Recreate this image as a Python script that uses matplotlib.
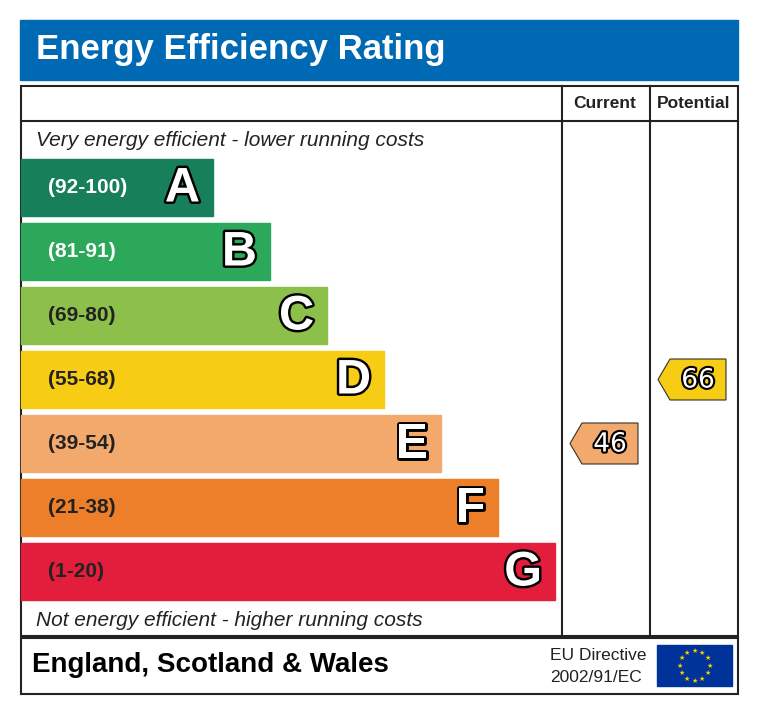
import matplotlib
matplotlib.use("Agg")
import matplotlib.pyplot as plt
import matplotlib.patheffects as pe
from matplotlib.patches import Rectangle, Polygon
import math

letters = ["A", "B", "C", "D", "E", "F", "G"]
ranges = ["(92-100)", "(81-91)", "(69-80)", "(55-68)", "(39-54)", "(21-38)", "(1-20)"]
lows = [92, 81, 69, 55, 39, 21, 1]
colors = ["#17805a", "#2ba85a", "#8cc04a", "#f6cc15", "#f2a96b", "#ee7f2a", "#e31d3c"]
range_text_colors = ["white", "white", "#222222", "#222222", "#222222", "#222222", "#222222"]
current = 46
potential = 66

fig = plt.figure(figsize=(7.6, 7.15), dpi=100)
ax = fig.add_axes([0, 0, 1, 1])
ax.set_xlim(0, 760); ax.set_ylim(715, 0); ax.axis("off")
F = "Liberation Sans"

ax.add_patch(Rectangle((20, 20), 718, 60, color="#0069b4"))
ax.text(36, 50, "Energy Efficiency Rating", color="white", fontsize=25, fontweight="bold", va="center", family=F)

lw = 1.5
ax.add_patch(Rectangle((21, 86), 717, 550, fill=False, ec="#222", lw=lw))
ax.plot([21, 738], [121, 121], color="#222", lw=lw)
ax.plot([562, 562], [86, 636], color="#222", lw=lw)
ax.plot([650, 650], [86, 636], color="#222", lw=lw)
ax.add_patch(Rectangle((21, 638), 717, 56, fill=False, ec="#222", lw=lw))
ax.text(605, 104, "Current", ha="center", va="center", fontsize=12.5, fontweight="bold", family=F, color="#222")
ax.text(694, 104, "Potential", ha="center", va="center", fontsize=12.5, fontweight="bold", family=F, color="#222")
ax.text(36, 140, "Very energy efficient - lower running costs", fontsize=15, style="italic", va="center", color="#222", family=F)
ax.text(36, 620, "Not energy efficient - higher running costs", fontsize=15, style="italic", va="center", color="#222", family=F)

outline = [pe.withStroke(linewidth=3.5, foreground="black")]
for i, (L, r, c, tc) in enumerate(zip(letters, ranges, colors, range_text_colors)):
    top = 159 + 64 * i
    right = 213 + 57 * i
    ax.add_patch(Rectangle((21, top), right - 21, 57, color=c))
    ax.text(48, top + 28.5, r, fontsize=15, fontweight="bold", color=tc, va="center", family=F)
    ax.text(right - 13, top + 30, L, fontsize=35, fontweight="bold", color="white", ha="right", va="center",
            path_effects=outline, family=F)

def band_index(v):
    for i, lo in enumerate(lows):
        if v >= lo:
            return i
    return len(lows) - 1

def arrow(v, x0, x1):
    i = band_index(v)
    top = 159 + 64 * i + 8
    h = 41
    pts = [(x0 + 12, top), (x1, top), (x1, top + h), (x0 + 12, top + h), (x0, top + h / 2)]
    ax.add_patch(Polygon(pts, closed=True, fc=colors[i], ec="#333", lw=0.8))
    ax.text((x0 + x1) / 2 + 6, top + h / 2 + 1, str(v), fontsize=19, color="white",
            ha="center", va="center", family="DejaVu Sans",
            path_effects=[pe.withStroke(linewidth=3, foreground="black")])

arrow(current, 570, 638)
arrow(potential, 658, 726)

ax.text(32, 665, "England, Scotland & Wales", fontsize=20, fontweight="bold", va="center", family=F)
ax.text(598, 656, "EU Directive", fontsize=12.5, ha="center", va="center", color="#222", family=F)
ax.text(596, 678, "2002/91/EC", fontsize=12.5, ha="center", va="center", color="#222", family=F)
ax.add_patch(Rectangle((657, 645), 75, 41, color="#003399"))
for k in range(12):
    a = 2 * math.pi * k / 12
    ax.text(694.5 + 15 * math.cos(a), 665.5 + 15 * math.sin(a), "★", color="#ffcc00", fontsize=5,
            ha="center", va="center", family="DejaVu Sans")

fig.savefig("out.png", dpi=100, facecolor="white")
